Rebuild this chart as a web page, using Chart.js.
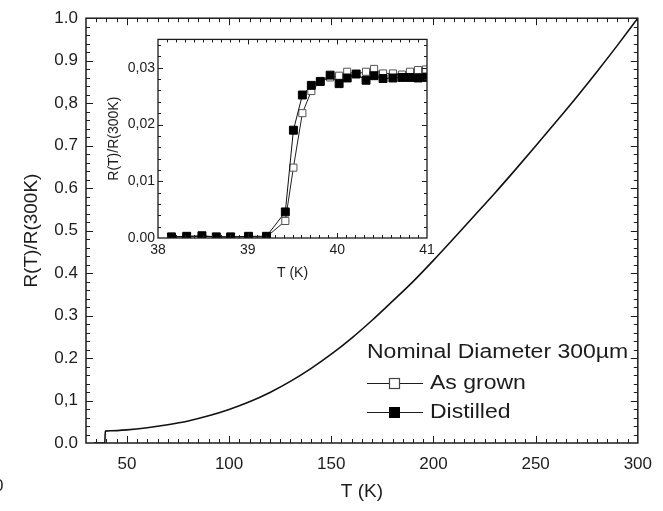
<!DOCTYPE html>
<html>
<head>
<meta charset="utf-8">
<script src="https://cdn.jsdelivr.net/npm/chart.js@4.4.0/dist/chart.umd.min.js"></script>
<style>
  html, body { margin: 0; padding: 0; background: #fff; }
  #wrap { position: relative; width: 663px; height: 511px; }
  #mainChart { position: absolute; left: 0; top: 0; }
  #insetChart { position: absolute; left: 100px; top: 28px; }
</style>
</head>
<body>
<div id="wrap">
  <canvas id="mainChart" width="663" height="511"></canvas>
  <canvas id="insetChart" width="340" height="260"></canvas>
</div>
<script>
// main curve R(T)/R(300K)
var mainT = [34, 39.2, 39.45, 42, 50, 60, 70, 80, 90, 100, 110, 120, 130, 140, 150, 160, 170, 180, 190, 200, 210, 220, 230, 240, 250, 260, 270, 280, 290, 300]
var mainR = [0, 0, 0.028, 0.029, 0.031, 0.036, 0.043, 0.052, 0.064, 0.079, 0.097, 0.119, 0.145, 0.175, 0.209, 0.247, 0.289, 0.334, 0.38, 0.43, 0.482, 0.535, 0.588, 0.643, 0.699, 0.756, 0.814, 0.874, 0.936, 1.0]
var mainXTicks = [50, 100, 150, 200, 250, 300]
var mainYTicks = [0, 0.1, 0.2, 0.3, 0.4, 0.5, 0.6, 0.7, 0.8, 0.9, 1.0]
var mainYLabels = ["0.0", "0,1", "0.2", "0.3", "0.4", "0.5", "0.6", "0.7", "0,8", "0.9", "1.0"]

// inset: transition near Tc
var insetT = [38.15, 38.32, 38.49, 38.65, 38.81, 39.01, 39.21, 39.42, 39.51, 39.61, 39.71, 39.81, 39.92, 40.02, 40.11, 40.21, 40.32, 40.41, 40.51, 40.62, 40.72, 40.81, 40.9, 40.99]
var asGrown = [0.0002, 0.0002, 0.0003, 0.0002, 0.0002, 0.0002, 0.0002, 0.003, 0.0124, 0.022, 0.0259, 0.0275, 0.0283, 0.0286, 0.0293, 0.0289, 0.0293, 0.0298, 0.029, 0.029, 0.0288, 0.0293, 0.0296, 0.0297]
var distilled = [0.0002, 0.0003, 0.0004, 0.0002, 0.0002, 0.0003, 0.0003, 0.0046, 0.019, 0.0252, 0.0269, 0.0276, 0.0287, 0.0272, 0.0282, 0.0289, 0.0278, 0.0286, 0.0281, 0.0282, 0.0283, 0.0283, 0.0282, 0.0283]
var insetXTicks = [38, 39, 40, 41]
var insetYTicks = [0, 0.01, 0.02, 0.03]
var insetYLabels = ["0.00", "0,01", "0,02", "0,03"]

var FONT = "'Liberation Sans', Arial, sans-serif"
var INK = "#1c1c1c"

function pts(xs, ys) {
  return xs.map(function (x, i) { return { x: x, y: ys[i] } })
}

// box around the plot with inward ticks on all four sides
var framePlugin = {
  id: "frame",
  afterDatasetsDraw: function (chart, args, o) {
    var ctx = chart.ctx, a = chart.chartArea
    var xs = chart.scales.x, ys = chart.scales.y
    ctx.save()
    ctx.strokeStyle = INK
    ctx.lineWidth = 1
    ctx.beginPath()
    var n = Math.round((o.xMax - o.xMin) / o.xMinor)
    for (var i = 0; i <= n; i++) {
      var v = o.xMin + i * o.xMinor
      var big = Math.abs(v / o.xMajor - Math.round(v / o.xMajor)) < 1e-6
      var len = big ? o.major : o.minor
      var px = Math.round(xs.getPixelForValue(v)) + 0.5
      if (px <= a.left + 1 || px >= a.right - 1) continue
      ctx.moveTo(px, a.bottom); ctx.lineTo(px, a.bottom - len)
      ctx.moveTo(px, a.top); ctx.lineTo(px, a.top + len)
    }
    n = Math.round((o.yMax - o.yMin) / o.yMinor)
    for (var j = 0; j <= n; j++) {
      var w = o.yMin + j * o.yMinor
      var bigY = Math.abs(w / o.yMajor - Math.round(w / o.yMajor)) < 1e-6
      var lenY = bigY ? o.major : o.minor
      var py = Math.round(ys.getPixelForValue(w)) + 0.5
      if (py <= a.top + 1 || py >= a.bottom - 1) continue
      ctx.moveTo(a.left, py); ctx.lineTo(a.left + lenY, py)
      ctx.moveTo(a.right, py); ctx.lineTo(a.right - lenY, py)
    }
    ctx.stroke()
    ctx.lineWidth = o.lw
    ctx.strokeRect(a.left, a.top, a.right - a.left, a.bottom - a.top)
    ctx.restore()
  }
}

// legend drawn inside the main plot
var legendPlugin = {
  id: "innerLegend",
  afterDraw: function (chart) {
    var ctx = chart.ctx
    ctx.save()
    ctx.fillStyle = INK
    ctx.font = "20px " + FONT
    ctx.textBaseline = "middle"
    function txt(s, x, y) {
      ctx.save()
      ctx.translate(x, y)
      ctx.scale(1.15, 1)
      ctx.fillText(s, 0, 0)
      ctx.restore()
    }
    txt("Nominal Diameter 300\u00b5m", 367, 352)
    var rows = [["As grown", 383, false], ["Distilled", 412, true]]
    rows.forEach(function (r) {
      ctx.strokeStyle = INK
      ctx.lineWidth = 1.2
      ctx.beginPath()
      ctx.moveTo(367, r[1] + 0.5); ctx.lineTo(423, r[1] + 0.5)
      ctx.stroke()
      if (r[2]) {
        ctx.fillStyle = "#000"
        ctx.fillRect(389, r[1] - 5, 11, 11)
      } else {
        ctx.fillStyle = "#fff"
        ctx.fillRect(389.5, r[1] - 4.5, 10, 10)
        ctx.strokeStyle = "#444"
        ctx.strokeRect(389.5, r[1] - 4.5, 10, 10)
      }
      ctx.fillStyle = INK
      txt(r[0], 430, r[1])
    })
    // cut-off label at the left margin
    ctx.font = "17px " + FONT
    ctx.fillText("0", -6, 486)
    ctx.restore()
  }
}

new Chart(document.getElementById("mainChart"), {
  type: "line",
  data: {
    datasets: [{
      label: "As grown / Distilled",
      data: pts(mainT, mainR),
      borderColor: "#111",
      borderWidth: 1.6,
      pointRadius: 0,
      cubicInterpolationMode: "monotone",
      fill: false
    }]
  },
  options: {
    responsive: false,
    animation: false,
    events: [],
    layout: { padding: { top: 15, right: 16, left: 0, bottom: 0 } },
    plugins: {
      legend: { display: false },
      tooltip: { enabled: false },
      frame: { xMin: 30, xMax: 300, xMinor: 5, xMajor: 50, yMin: 0, yMax: 1, yMinor: 0.02, yMajor: 0.1, major: 7, minor: 4, lw: 1.5 }
    },
    scales: {
      x: {
        type: "linear",
        min: 30,
        max: 300,
        afterBuildTicks: function (s) { s.ticks = mainXTicks.map(function (v) { return { value: v } }) },
        afterFit: function (s) { s.height = 68 },
        grid: { display: false, drawTicks: false },
        border: { display: false },
        ticks: { font: { family: FONT, size: 17 }, color: INK, padding: 11, maxRotation: 0 },
        title: { display: true, text: "T (K)", font: { family: FONT, size: 19 }, color: INK, padding: { top: 0, bottom: 8 } }
      },
      y: {
        type: "linear",
        min: 0,
        max: 1,
        afterBuildTicks: function (s) { s.ticks = mainYTicks.map(function (v) { return { value: v } }) },
        afterFit: function (s) { s.width = 86 },
        grid: { display: false, drawTicks: false },
        border: { display: false },
        ticks: {
          font: { family: FONT, size: 17 }, color: INK, padding: 8,
          callback: function (v, i) { return mainYLabels[i] }
        },
        title: { display: true, text: "R(T)/R(300K)", font: { family: FONT, size: 19 }, color: INK, padding: { top: 20, bottom: 0 } }
      }
    }
  },
  plugins: [framePlugin, legendPlugin]
})

new Chart(document.getElementById("insetChart"), {
  type: "line",
  data: {
    datasets: [{
      label: "Distilled",
      data: pts(insetT, distilled),
      borderColor: "#111",
      borderWidth: 1,
      pointStyle: "rect",
      pointRadius: 5.6,
      pointBackgroundColor: "#000",
      pointBorderColor: "#000",
      pointBorderWidth: 1,
      order: 0
    }, {
      label: "As grown",
      data: pts(insetT, asGrown),
      borderColor: "#222",
      borderWidth: 1,
      pointStyle: "rect",
      pointRadius: 5,
      pointBackgroundColor: "#fff",
      pointBorderColor: "#555",
      pointBorderWidth: 1,
      order: 1
    }]
  },
  options: {
    responsive: false,
    animation: false,
    events: [],
    layout: { padding: { top: 9, right: 13, left: 0, bottom: 0 } },
    plugins: {
      legend: { display: false },
      tooltip: { enabled: false },
      frame: { xMin: 38, xMax: 41, xMinor: 0.1, xMajor: 1, yMin: 0, yMax: 0.035, yMinor: 0.002, yMajor: 0.01, major: 5, minor: 3, lw: 1.3 }
    },
    scales: {
      x: {
        type: "linear",
        min: 38,
        max: 41,
        afterBuildTicks: function (s) { s.ticks = insetXTicks.map(function (v) { return { value: v } }) },
        afterFit: function (s) { s.height = 50 },
        grid: { display: false, drawTicks: false },
        border: { display: false },
        ticks: { font: { family: FONT, size: 14 }, color: INK, padding: 4, maxRotation: 0 },
        title: { display: true, text: "T (K)", font: { family: FONT, size: 14 }, color: INK, padding: { top: 0, bottom: 6 } }
      },
      y: {
        type: "linear",
        min: 0,
        max: 0.035,
        afterBuildTicks: function (s) { s.ticks = insetYTicks.map(function (v) { return { value: v } }) },
        afterFit: function (s) { s.width = 58 },
        grid: { display: false, drawTicks: false },
        border: { display: false },
        ticks: {
          font: { family: FONT, size: 14 }, color: INK, padding: 3,
          callback: function (v, i) { return insetYLabels[i] }
        },
        title: { display: true, text: "R(T)/R(300K)", font: { family: FONT, size: 14 }, color: INK, padding: { top: 6, bottom: 0 } }
      }
    }
  },
  plugins: [framePlugin]
})
</script>
</body>
</html>
